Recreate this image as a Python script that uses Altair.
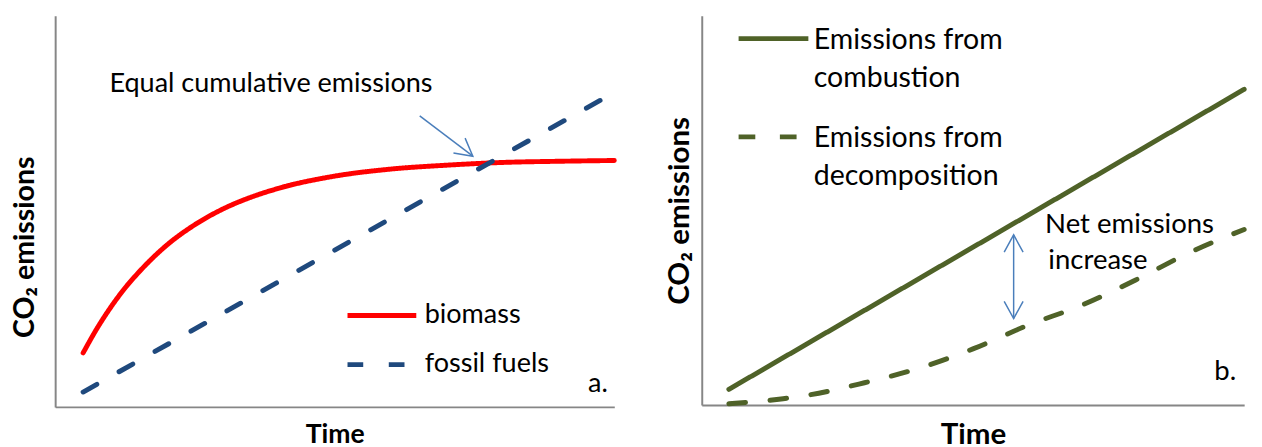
import altair as alt
import pandas as pd

# ---------------- panel a data ----------------
time_biomass = [0.5, 0.75, 1.0, 1.25, 1.5, 2.0, 2.5, 3.0, 3.5, 4.0, 5.0, 6.0, 7.0, 8.0, 9.0, 10.0]
biomass = [1.38, 2.01, 2.56, 3.04, 3.45, 4.14, 4.66, 5.06, 5.36, 5.59, 5.90, 6.08, 6.18, 6.25, 6.28, 6.30]
time_fossil = [0.5, 10.0]
fossil_fuels = [0.38, 8.04]
series_a = ["biomass", "fossil fuels"]

# ---------------- panel b data ----------------
time_combustion = [0.5, 10.0]
combustion = [0.40, 8.11]
time_decomposition = [0.5, 1.5, 2.0, 3.0, 4.0, 5.0, 6.0, 7.0, 8.0, 9.0, 10.0]
decomposition = [0.03, 0.16, 0.26, 0.57, 0.94, 1.44, 2.04, 2.56, 3.21, 3.92, 4.51]
series_b = ["Emissions from combustion", "Emissions from decomposition"]

# ---------------- annotations ----------------
note_a = ["Equal cumulative emissions"]
note_a_t = [0.97]
note_a_v = [8.24]
arrow_a_t = [6.52, 7.47]
arrow_a_v = [7.44, 6.41]
tag_a = ["a."]
tag_a_t = [9.53]
tag_a_v = [0.38]

note_b = ["Net emissions", "increase"]
note_b_t = [6.33, 6.39]
note_b_v = [4.62, 3.69]
arrow_b_t = [5.75, 5.75]
arrow_b_v = [2.22, 4.37]
tag_b = ["b."]
tag_b_t = [9.45]
tag_b_v = [0.63]

# ---------------- styles ----------------
FONT = "Lato"
AXC = "#868686"
RED = "#FF0000"
BLUE = "#1F497D"
GREEN = "#4F6228"
ARROW = "#4A7EBB"
HEAD = "M -1 -0.55 L 0 0 L -1 0.55"

xs = alt.Scale(domain=[0, 10], nice=False, zero=False)
ys = alt.Scale(domain=[0, 10], nice=False, zero=False)


def x_axis(size, pad):
    return alt.Axis(title="Time", ticks=False, labels=False, grid=False,
                    domainColor=AXC, domainWidth=2, titleFont=FONT,
                    titleFontSize=size, titleFontWeight="bold",
                    titleColor="black", titlePadding=pad)


def y_axis(size, pad, **kw):
    return alt.Axis(title="CO₂ emissions", ticks=False, labels=False, grid=False,
                    domainColor=AXC, domainWidth=2, titleFont=FONT,
                    titleFontSize=size, titleFontWeight="bold",
                    titleColor="black", titlePadding=pad, **kw)


xa = x_axis(27, 15)
ya = y_axis(29, 16, titleY=235)
xb = x_axis(30, 15)
yb = y_axis(30, 7)


def enc(xax, yax):
    return dict(x=alt.X("t:Q", scale=xs, axis=xax), y=alt.Y("v:Q", scale=ys, axis=yax))


# ---------------- panel a ----------------
df_a = pd.DataFrame({
    "t": time_biomass + time_fossil,
    "v": biomass + fossil_fuels,
    "series_a": [series_a[0]] * len(time_biomass) + [series_a[1]] * len(time_fossil),
})
legend_a = alt.Legend(title=None, orient="none", legendX=295, legendY=280,
                      symbolType="stroke", symbolSize=4900, symbolStrokeWidth=5,
                      labelFont=FONT, labelFontSize=27.5, labelColor="black",
                      labelOffset=6, labelBaseline="middle", clipHeight=50,
                      rowPadding=0, labelLimit=0, padding=0)
lines_a = alt.Chart(df_a).mark_line(strokeWidth=5, strokeCap="round",
                                    interpolate="monotone").encode(
    **enc(xa, ya),
    color=alt.Color("series_a:N", scale=alt.Scale(domain=series_a, range=[RED, BLUE]),
                    legend=legend_a),
    strokeDash=alt.StrokeDash("series_a:N",
                              scale=alt.Scale(domain=series_a, range=[[1, 0], [16, 26]]),
                              legend=legend_a),
)

df_arrow_a = pd.DataFrame({"t": arrow_a_t, "v": arrow_a_v})
shaft_a = alt.Chart(df_arrow_a).mark_line(color=ARROW, strokeWidth=1.5).encode(**enc(xa, ya))
head_a = alt.Chart(df_arrow_a.iloc[[1]]).mark_point(
    shape=HEAD, size=1225, angle=38, filled=False, color=ARROW,
    strokeWidth=1.5, opacity=1).encode(**enc(xa, ya))

text_a = alt.Chart(pd.DataFrame({"t": note_a_t, "v": note_a_v, "label": note_a})).mark_text(
    align="left", baseline="middle", font=FONT, fontSize=27.5, color="black"
).encode(**enc(xa, ya), text="label:N")
label_a = alt.Chart(pd.DataFrame({"t": tag_a_t, "v": tag_a_v, "label": tag_a})).mark_text(
    align="left", baseline="alphabetic", font=FONT, fontSize=27.5, color="black"
).encode(**enc(xa, ya), text="label:N")

panel_a = alt.layer(lines_a, shaft_a, head_a, text_a, label_a).properties(width=569, height=398)

# ---------------- panel b ----------------
df_b = pd.DataFrame({
    "t": time_combustion + time_decomposition,
    "v": combustion + decomposition,
    "series_b": [series_b[0]] * len(time_combustion) + [series_b[1]] * len(time_decomposition),
})
legend_b = alt.Legend(title=None, orient="none", legendX=35, legendY=3,
                      symbolType="M -1 -0.29 L 1 -0.29", symbolSize=5041,
                      symbolStrokeWidth=5, symbolStrokeColor=GREEN,
                      labelFont=FONT, labelFontSize=29, labelColor="black",
                      labelOffset=3, labelBaseline="alphabetic", clipHeight=61,
                      rowPadding=24, labelLimit=0, padding=0,
                      labelExpr="[substring(datum.label, 0, 14), substring(datum.label, 15)]")
lines_b = alt.Chart(df_b).mark_line(color=GREEN, strokeWidth=5, strokeCap="round",
                                    interpolate="monotone").encode(
    **enc(xb, yb),
    strokeDash=alt.StrokeDash("series_b:N",
                              scale=alt.Scale(domain=series_b, range=[[1, 0], [17, 25]]),
                              legend=legend_b),
)

df_arrow_b = pd.DataFrame({"t": arrow_b_t, "v": arrow_b_v})
shaft_b = alt.Chart(df_arrow_b).mark_line(color=ARROW, strokeWidth=1.5).encode(**enc(xb, yb))
head_b_up = alt.Chart(df_arrow_b.iloc[[1]]).mark_point(
    shape=HEAD, size=1225, angle=270, filled=False, color=ARROW,
    strokeWidth=1.5, opacity=1).encode(**enc(xb, yb))
head_b_down = alt.Chart(df_arrow_b.iloc[[0]]).mark_point(
    shape=HEAD, size=1225, angle=90, filled=False, color=ARROW,
    strokeWidth=1.5, opacity=1).encode(**enc(xb, yb))

text_b = alt.Chart(pd.DataFrame({"t": note_b_t, "v": note_b_v, "label": note_b})).mark_text(
    align="left", baseline="middle", font=FONT, fontSize=28, color="black"
).encode(**enc(xb, yb), text="label:N")
label_b = alt.Chart(pd.DataFrame({"t": tag_b_t, "v": tag_b_v, "label": tag_b})).mark_text(
    align="left", baseline="alphabetic", font=FONT, fontSize=28, color="black"
).encode(**enc(xb, yb), text="label:N")

panel_b = alt.layer(lines_b, shaft_b, head_b_up, head_b_down, text_b, label_b).properties(
    width=552, height=396)

chart = alt.hconcat(panel_a, panel_b, spacing=89, bounds="flush").resolve_scale(
    color="independent", strokeDash="independent"
).resolve_legend(
    color="independent", strokeDash="independent"
).properties(
    padding={"left": 3, "top": 4, "right": 0, "bottom": 0}
).configure(style={"guide-label": {"lineHeight": 39}}).configure_view(stroke=None)

chart.save("out.html", embed_options={"renderer": "svg", "actions": False})
